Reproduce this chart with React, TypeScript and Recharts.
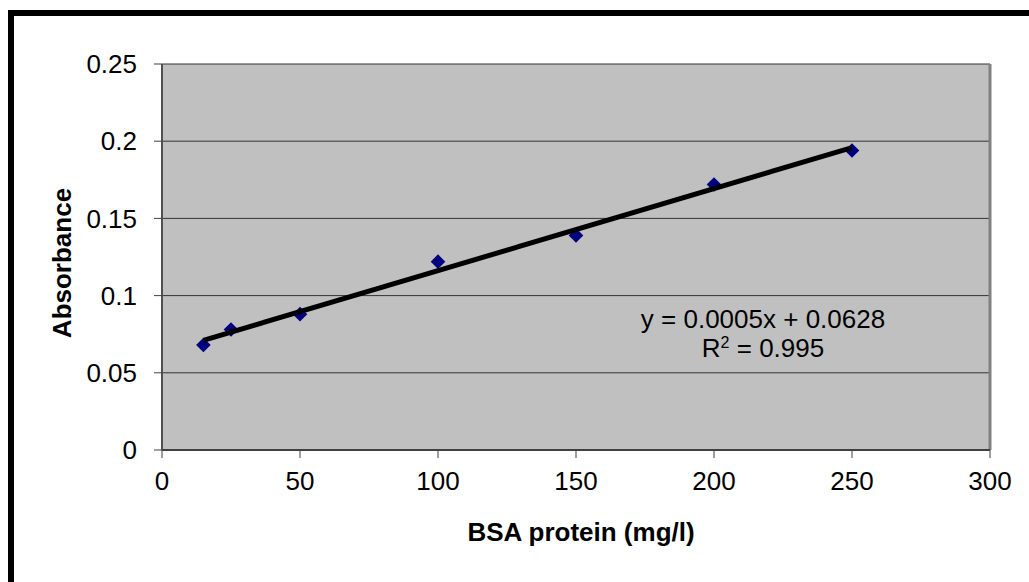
import {
  ScatterChart,
  Scatter,
  XAxis,
  YAxis,
  CartesianGrid,
  ReferenceLine,
  Label
} from "recharts";

// BSA standard curve readings
const proteinConc = [15, 25, 50, 100, 150, 200, 250];
const absorbance = [0.068, 0.078, 0.088, 0.122, 0.139, 0.172, 0.194];

const xTicks = [0, 50, 100, 150, 200, 250, 300];
const yTicks = [0, 0.05, 0.1, 0.15, 0.2, 0.25];

const equationText = "y = 0.0005x + 0.0628";
const rSquaredValue = "0.995";

const FONT = "'Liberation Sans', Arial, sans-serif";

const points = proteinConc.map((x, i) => ({ x, y: absorbance[i] }));

// least squares trendline over the measured range
const n = points.length;
const meanX = proteinConc.reduce((a, b) => a + b, 0) / n;
const meanY = absorbance.reduce((a, b) => a + b, 0) / n;
let sxy = 0;
let sxx = 0;
points.forEach((p) => {
  sxy += (p.x - meanX) * (p.y - meanY);
  sxx += (p.x - meanX) * (p.x - meanX);
});
const slope = sxy / sxx;
const intercept = meanY - slope * meanX;
const xMin = Math.min(...proteinConc);
const xMax = Math.max(...proteinConc);
const trend = [
  { x: xMin, y: intercept + slope * xMin },
  { x: xMax, y: intercept + slope * xMax }
];

const Diamond = (props: any) => {
  const { cx, cy } = props;
  const r = 7.3;
  return (
    <polygon
      points={`${cx},${cy - r} ${cx + r},${cy} ${cx},${cy + r} ${cx - r},${cy}`}
      fill="#000080"
    />
  );
};

const tickStyle = { fill: "#000", fontSize: 26, fontFamily: FONT };

const App = () => {
  return (
    <div
      style={{
        position: "fixed",
        left: 8,
        top: 10,
        right: 0,
        bottom: 0,
        overflow: "hidden",
        borderLeft: "6px solid #000",
        borderTop: "6px solid #000",
        background: "#fff"
      }}
    >
      <ScatterChart
        width={1007}
        height={550}
        margin={{ top: 48, right: 31, left: 58, bottom: 0 }}
      >
        <CartesianGrid
          vertical={false}
          fill="#C0C0C0"
          stroke="#333"
          strokeWidth={1}
          fillOpacity={1}
        />
        <XAxis
          type="number"
          dataKey="x"
          domain={[0, 300]}
          ticks={xTicks}
          height={116}
          tickSize={8}
          tickMargin={14}
          tick={tickStyle}
          stroke="#404040"
          axisLine={{ stroke: "#404040", strokeWidth: 2 }}
          tickLine={{ stroke: "#404040" }}
        >
          <Label
            content={() => (
              <text
                x={567}
                y={516}
                textAnchor="middle"
                dominantBaseline="central"
                fontFamily={FONT}
                fontWeight="bold"
                fontSize={26}
                fill="#000"
              >
                BSA protein (mg/l)
              </text>
            )}
          />
        </XAxis>
        <YAxis
          type="number"
          dataKey="y"
          domain={[0, 0.25]}
          ticks={yTicks}
          width={90}
          tickSize={8}
          tickMargin={17}
          tick={tickStyle}
          axisLine={{ stroke: "#505050", strokeWidth: 2 }}
          tickLine={{ stroke: "#404040" }}
        >
          <Label
            content={() => (
              <text
                x={48}
                y={247}
                transform="rotate(-90 48 247)"
                textAnchor="middle"
                dominantBaseline="central"
                fontFamily={FONT}
                fontWeight="bold"
                fontSize={26}
                fill="#000"
              >
                Absorbance
              </text>
            )}
          />
        </YAxis>
        <ReferenceLine x={300} stroke="#808080" strokeWidth={3} />
        <Scatter
          data={points}
          shape={<Diamond />}
          isAnimationActive={false}
        />
        <Scatter
          data={trend}
          line={{ stroke: "#000", strokeWidth: 5 }}
          shape={() => null}
          isAnimationActive={false}
        />
      </ScatterChart>
      <div
        style={{
          position: "absolute",
          left: 749,
          top: 303,
          transform: "translate(-50%, -50%)",
          fontFamily: FONT,
          fontSize: 26,
          whiteSpace: "nowrap",
          lineHeight: 1
        }}
      >
        {equationText}
      </div>
      <div
        style={{
          position: "absolute",
          left: 749,
          top: 332,
          transform: "translate(-50%, -50%)",
          fontFamily: FONT,
          fontSize: 26,
          whiteSpace: "nowrap",
          lineHeight: 1
        }}
      >
        R<span style={{ fontSize: 16, verticalAlign: "top" }}>2</span> ={" "}
        {rSquaredValue}
      </div>
    </div>
  );
};

export default App;
